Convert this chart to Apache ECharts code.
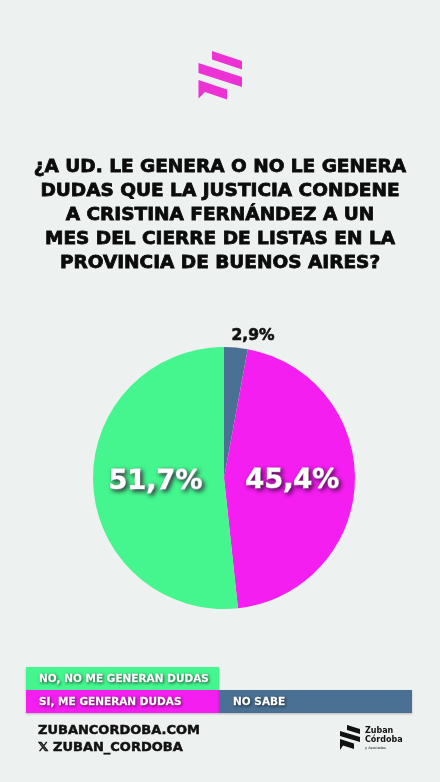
<!DOCTYPE html>
<html><head><meta charset="utf-8">
<script src="https://cdn.jsdelivr.net/npm/echarts@6/dist/echarts.min.js"></script>
<style>html,body{margin:0;padding:0;background:#edf1f0;}#c{width:440px;height:782px;}</style>
</head><body><div id="c"></div>
<script>
const titleLines = [
  '¿A UD. LE GENERA O NO LE GENERA',
  'DUDAS QUE LA JUSTICIA CONDENE',
  'A CRISTINA FERNÁNDEZ A UN',
  'MES DEL CIERRE DE LISTAS EN LA',
  'PROVINCIA DE BUENOS AIRES?'
];
const categories = ['NO SABE', 'SI, ME GENERAN DUDAS', 'NO, NO ME GENERAN DUDAS'];
const values = [2.9, 45.4, 51.7];
const colors = ['#4a7194', '#f41ef0', '#45f58e'];
const legendOrder = ['NO, NO ME GENERAN DUDAS', 'SI, ME GENERAN DUDAS', 'NO SABE'];
const footerLines = ['ZUBANCORDOBA.COM', '𝕏 ZUBAN_CORDOBA'];

const FONT = '"DejaVu Sans"';
const fmt = v => v.toFixed(1).replace('.', ',') + '%';

const chart = echarts.init(document.getElementById('c'), null, {renderer: 'canvas'});

const pieData = categories.map((name, i) => {
  const big = values[i] > 10;
  return {
    name, value: values[i],
    itemStyle: {color: colors[i]},
    label: big ? {
      position: 'inside', color: '#fff', fontSize: 27, fontWeight: 'bold', fontFamily: FONT,
      textBorderColor: '#fff', textBorderWidth: 1,
      textShadowColor: 'rgba(40,0,40,0.75)', textShadowBlur: 4, textShadowOffsetX: 2, textShadowOffsetY: 2
    } : {
      position: 'outside', color: '#111', fontSize: 15.5, fontWeight: 'bold', fontFamily: FONT,
      textBorderColor: '#111', textBorderWidth: 0.6,
      offset: [-10, -6]
    },
    labelLine: {show: false, length: 6, length2: 0}
  };
});

const graphics = [];
// top logo
const logoColor = '#ec32d4';
graphics.push({type: 'polygon', shape: {points: [[212,51],[242,61],[242,69.5],[212,59.5]]}, style: {fill: logoColor}});
graphics.push({type: 'polygon', shape: {points: [[198.5,63],[242,77],[242,87],[198.5,73]]}, style: {fill: logoColor}});
graphics.push({type: 'polygon', shape: {points: [[198.5,80],[227,89.5],[227,99.5],[205,92],[198.5,98.5]]}, style: {fill: logoColor}});

// title
titleLines.forEach((t, i) => {
  graphics.push({type: 'text', x: 220, y: 167 + i * 24,
    style: {text: t, fill: '#0b0b0b', stroke: '#0b0b0b', lineWidth: 0.8,
      font: 'bold 18.5px ' + FONT, align: 'center', verticalAlign: 'middle'}});
});

// legend blocks
const lx = 26, lw = 193, lh = 23, ly = 667;
const legPos = [[lx, ly], [lx, ly + lh], [lx + lw, ly + lh]];
legendOrder.forEach((name, i) => {
  const ci = categories.indexOf(name);
  graphics.push({type: 'rect', shape: {x: legPos[i][0], y: legPos[i][1], width: lw, height: lh},
    style: {fill: colors[ci], shadowColor: 'rgba(0,0,0,0.25)', shadowBlur: 2, shadowOffsetY: 1}});
  graphics.push({type: 'text', x: legPos[i][0] + (i === 2 ? 14 : 13), y: legPos[i][1] + lh / 2 + 1,
    style: {text: name, fill: '#fff', stroke: '#fff', lineWidth: 0.3, font: 'bold 10.5px ' + FONT, verticalAlign: 'middle',
      textShadowColor: 'rgba(0,0,0,0.6)', textShadowBlur: 3, textShadowOffsetX: 1, textShadowOffsetY: 1}});
});

// footer
footerLines.forEach((t, i) => {
  graphics.push({type: 'text', x: 38, y: 731 + i * 17,
    style: {text: t, fill: '#111', stroke: '#111', lineWidth: 0.5, font: 'bold 13px ' + FONT, verticalAlign: 'middle'}});
});
// footer logo
graphics.push({type: 'polygon', shape: {points: [[347,725],[360,729],[360,734],[347,730]]}, style: {fill: '#111'}});
graphics.push({type: 'polygon', shape: {points: [[340,731],[360,737],[360,742],[340,736]]}, style: {fill: '#111'}});
graphics.push({type: 'polygon', shape: {points: [[340,739],[354,743.5],[354,749],[343,745.5],[340,750]]}, style: {fill: '#111'}});
graphics.push({type: 'text', x: 365, y: 731, style: {text: 'Zuban', fill: '#111', font: 'bold 8px ' + FONT, verticalAlign: 'middle'}});
graphics.push({type: 'text', x: 365, y: 740, style: {text: 'Córdoba', fill: '#111', font: 'bold 8px ' + FONT, verticalAlign: 'middle'}});
graphics.push({type: 'text', x: 365, y: 748, style: {text: 'y Asociados', fill: '#111', font: '3.5px ' + FONT, verticalAlign: 'middle'}});

chart.setOption({
  backgroundColor: '#edf1f0',
  animation: false,
  series: [{
    type: 'pie',
    center: [224, 478],
    radius: [0, 131],
    startAngle: 90,
    clockwise: true,
    avoidLabelOverlap: false,
    label: {show: true, formatter: p => fmt(p.value)},
    data: pieData
  }],
  graphic: graphics
});
</script>
</body></html>
